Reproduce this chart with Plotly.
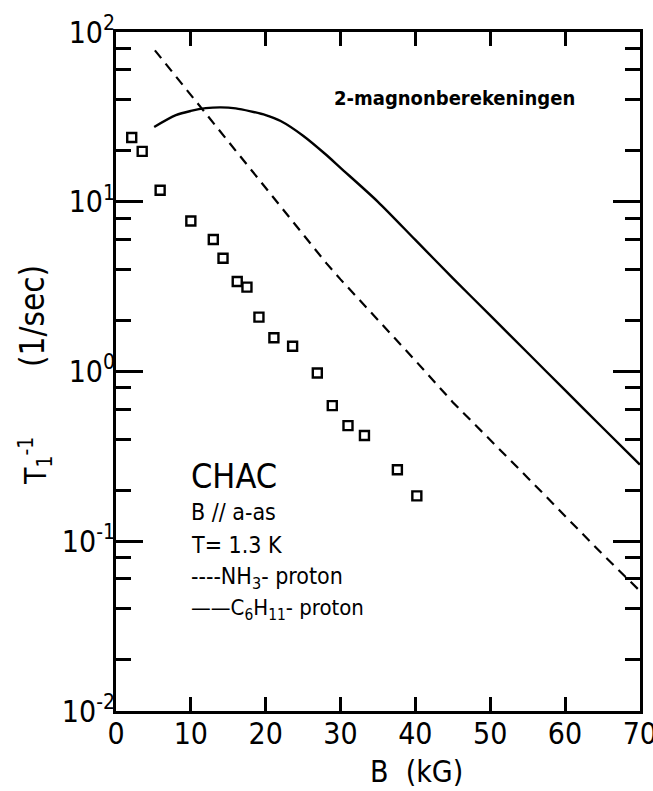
import plotly.graph_objects as go

# ---- data ----
B_meas = [2.1, 3.5, 5.9, 10.0, 13.0, 14.3, 16.2, 17.5, 19.1, 21.1, 23.6, 26.9, 28.9, 31.0, 33.2, 37.6, 40.2]
T1_meas = [23.9, 19.8, 11.7, 7.7, 6.0, 4.65, 3.39, 3.14, 2.09, 1.58, 1.41, 0.98, 0.63, 0.48, 0.42, 0.264, 0.185]

B_nh3 = [5.2, 10, 12.1, 15, 20, 25, 28.1, 30, 35, 40, 45, 50, 55, 60, 65, 70]
T1_nh3 = [78, 42.6, 32.6, 22.6, 12.1, 6.4, 4.35, 3.49, 2.02, 1.16, 0.66, 0.398, 0.237, 0.141, 0.084, 0.051]

B_c6 = [5.1, 8, 10, 12, 14, 16, 18, 20, 22, 25, 28, 30, 35, 40, 45, 50, 55, 60, 65, 70]
T1_c6 = [27.6, 32.4, 34.3, 35.6, 36.0, 35.5, 34.1, 32.4, 29.9, 24.5, 19.05, 15.85, 10.0, 5.96, 3.55, 2.14, 1.29, 0.776, 0.468, 0.283]

x_ticks = [0, 10, 20, 30, 40, 50, 60, 70]
y_ticks = [0.01, 0.1, 1, 10, 100]
y_ticktext = ["10<sup>-2</sup>", "10<sup>-1</sup>", "10<sup>0</sup>", "10<sup>1</sup>", "10<sup>2</sup>"]
y_minor = [m * d for d in [0.01, 0.1, 1, 10] for m in (2, 4, 6, 8)]

FONT = "Liberation Sans Narrow, DejaVu Sans Condensed, Liberation Sans, sans-serif"

fig = go.Figure()
fig.add_trace(go.Scatter(x=B_nh3, y=T1_nh3, mode="lines",
                         line=dict(color="black", width=2.2, dash="10px,7px"),
                         showlegend=False))
fig.add_trace(go.Scatter(x=B_c6, y=T1_c6, mode="lines", line_shape="spline",
                         line=dict(color="black", width=2.4, smoothing=0.8),
                         showlegend=False))
fig.add_trace(go.Scatter(x=B_meas, y=T1_meas, mode="markers",
                         marker=dict(symbol="square-open", size=9, color="black",
                                     line=dict(width=2.4, color="black")),
                         showlegend=False))

W, H = 653, 791
L, R, T, Bm = 116, 13, 32, 80
pw, ph = W - L - R, H - T - Bm


def px(xp):
    return (xp - L) / pw


def py(yp):
    return (H - Bm - yp) / ph


ann = [
    dict(text="<b>2-magnonberekeningen</b>", x=px(332), y=py(98), size=20),
    dict(text="CHAC", x=px(189), y=py(476), size=34),
    dict(text="B // a-as", x=px(189), y=py(512), size=23),
    dict(text="T= 1.3 K", x=px(189), y=py(545), size=23),
    dict(text="----NH<sub>3</sub>- proton", x=px(189), y=py(578), size=23),
    dict(text="——C<sub>6</sub>H<sub>11</sub>- proton", x=px(189), y=py(609), size=22),
]
annotations = [dict(text=a["text"], x=a["x"], y=a["y"], xref="paper", yref="paper",
                    xanchor="left", yanchor="middle", showarrow=False,
                    font=dict(family=FONT, size=a["size"], color="black")) for a in ann]
annotations.append(dict(text="B\u00a0\u00a0(kG)", x=px(416), y=py(772), xref="paper", yref="paper",
                        xanchor="center", yanchor="middle", showarrow=False,
                        font=dict(family=FONT, size=30, color="black")))
annotations.append(dict(text="T<sub>1</sub><sup>-1</sup>",
                        x=px(35), y=py(461), xref="paper", yref="paper",
                        xanchor="center", yanchor="middle", showarrow=False, textangle=-90,
                        font=dict(family=FONT, size=30, color="black")))
annotations.append(dict(text="(1/sec)",
                        x=px(33), y=py(316), xref="paper", yref="paper",
                        xanchor="center", yanchor="middle", showarrow=False, textangle=-90,
                        font=dict(family=FONT, size=33, color="black")))

fig.update_layout(
    width=W, height=H,
    margin=dict(l=L, r=R, t=T, b=Bm, autoexpand=False),
    paper_bgcolor="white", plot_bgcolor="white",
    font=dict(family=FONT, color="black"),
    annotations=annotations,
    xaxis=dict(range=[0, 70.02], tickvals=x_ticks, ticks="inside", ticklen=14, tickwidth=2.5,
               tickcolor="black", showline=True, linecolor="black", linewidth=3,
               mirror="ticks", showgrid=False, zeroline=False, automargin=False,
               tickfont=dict(family=FONT, size=30), ticklabelstandoff=-6,
               ticklabeloverflow="allow"),
    yaxis=dict(type="log", range=[-2, 2.0002], tickvals=y_ticks, ticktext=y_ticktext,
               ticks="inside", ticklen=27, tickwidth=2.5, tickcolor="black",
               showline=True, linecolor="black", linewidth=3, mirror="ticks",
               showgrid=False, zeroline=False, automargin=False,
               tickfont=dict(family=FONT, size=30), ticklabelstandoff=-8,
               ticklabeloverflow="allow",
               minor=dict(tickmode="array", tickvals=y_minor, ticks="inside",
                          ticklen=15, tickwidth=2.5, tickcolor="black", showgrid=False)),
)

fig.write_html("out.html")
